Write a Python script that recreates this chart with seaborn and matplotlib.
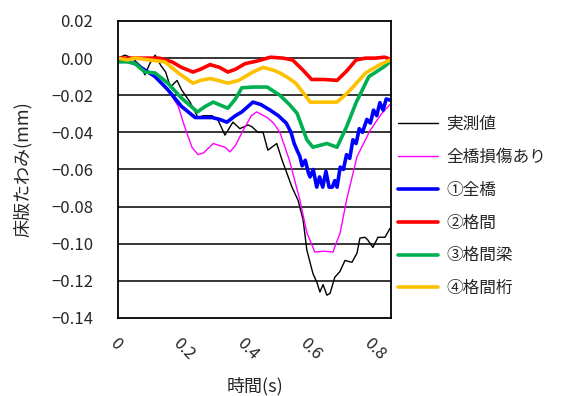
import numpy as np
import pandas as pd
import matplotlib
matplotlib.use('Agg')
import matplotlib.pyplot as plt
import seaborn as sns

# measured deflection
bx = [0, 0.022, 0.045, 0.07, 0.085, 0.1, 0.117, 0.135, 0.15, 0.165, 0.186, 0.2, 0.227, 0.252, 0.27,
      0.296, 0.315, 0.337, 0.362, 0.384, 0.41, 0.422, 0.441, 0.457, 0.472, 0.5, 0.517, 0.532, 0.548,
      0.567, 0.583, 0.595, 0.614, 0.627, 0.636, 0.646, 0.658, 0.668, 0.683, 0.699, 0.715, 0.737,
      0.753, 0.762, 0.778, 0.787, 0.803, 0.819, 0.841, 0.857]
by = [0, 0.0016, 0.0, -0.004, -0.009, -0.003, 0.0016, -0.004, -0.0075, -0.0156, -0.012, -0.017,
      -0.0237, -0.032, -0.031, -0.031, -0.0334, -0.0415, -0.0345, -0.038, -0.036, -0.037, -0.040,
      -0.040, -0.0496, -0.046, -0.055, -0.062, -0.0695, -0.0765, -0.087, -0.1035, -0.116, -0.121,
      -0.126, -0.122, -0.1277, -0.1267, -0.118, -0.115, -0.109, -0.110, -0.105, -0.097, -0.0965,
      -0.098, -0.102, -0.0965, -0.0965, -0.0917]

# whole bridge damaged
mx = [0, 0.054, 0.117, 0.157, 0.19, 0.21, 0.233, 0.252, 0.27, 0.30, 0.337, 0.353, 0.37, 0.394, 0.42,
      0.437, 0.47, 0.49, 0.51, 0.54, 0.573, 0.595, 0.62, 0.65, 0.677, 0.70, 0.72, 0.753, 0.794, 0.83,
      0.857]
my = [0, -0.003, -0.010, -0.017, -0.026, -0.037, -0.048, -0.052, -0.051, -0.046, -0.048, -0.0505,
      -0.047, -0.039, -0.031, -0.029, -0.032, -0.035, -0.040, -0.055, -0.0765, -0.094, -0.1045,
      -0.104, -0.1045, -0.094, -0.0765, -0.053, -0.039, -0.030, -0.025]

# case 1
ux = [0, 0.054, 0.117, 0.157, 0.2, 0.243, 0.27, 0.296, 0.32, 0.343, 0.37, 0.39, 0.425, 0.45, 0.479,
      0.505, 0.53, 0.545, 0.555, 0.564, 0.573, 0.58, 0.59, 0.6, 0.605, 0.615, 0.626, 0.635, 0.645,
      0.655, 0.665, 0.675, 0.683, 0.69, 0.70, 0.71, 0.72, 0.73, 0.74, 0.75, 0.76, 0.77, 0.784, 0.795,
      0.805, 0.815, 0.825, 0.835, 0.845, 0.857]
uy = [0, -0.003, -0.010, -0.017, -0.026, -0.032, -0.032, -0.032, -0.033, -0.0345, -0.031, -0.029,
      -0.0237, -0.025, -0.028, -0.031, -0.035, -0.040, -0.046, -0.0496, -0.053, -0.058, -0.055,
      -0.062, -0.064, -0.060, -0.0695, -0.064, -0.0695, -0.061, -0.0695, -0.0695, -0.066, -0.0695,
      -0.0587, -0.060, -0.052, -0.054, -0.044, -0.046, -0.038, -0.040, -0.033, -0.035, -0.028,
      -0.031, -0.024, -0.028, -0.022, -0.0226]

# case 2
rx = [0, 0.05, 0.1, 0.13, 0.17, 0.2, 0.236, 0.26, 0.29, 0.32, 0.346, 0.37, 0.4, 0.44, 0.48, 0.52,
      0.55, 0.58, 0.61, 0.65, 0.69, 0.72, 0.75, 0.78, 0.81, 0.84, 0.857]
ry = [0, 0, 0, 0, -0.002, -0.005, -0.0075, -0.006, -0.0035, -0.005, -0.0075, -0.006, -0.003,
      -0.0015, 0.0005, 0, -0.001, -0.006, -0.0115, -0.0115, -0.012, -0.007, -0.001, 0, 0, 0.0005,
      -0.0005]

# case 3
gx = [0, 0.03, 0.054, 0.085, 0.117, 0.157, 0.2, 0.25, 0.275, 0.30, 0.346, 0.37, 0.39, 0.425, 0.47,
      0.51, 0.54, 0.564, 0.595, 0.614, 0.658, 0.69, 0.72, 0.75, 0.79, 0.835, 0.857]
gy = [-0.002, -0.002, -0.003, -0.0075, -0.008, -0.0135, -0.0215, -0.029, -0.026, -0.0237, -0.027,
      -0.022, -0.016, -0.0156, -0.0156, -0.020, -0.025, -0.0297, -0.044, -0.048, -0.046, -0.048,
      -0.037, -0.024, -0.010, -0.005, -0.002]

# case 4
ox = [0, 0.03, 0.054, 0.1, 0.148, 0.19, 0.236, 0.26, 0.29, 0.315, 0.346, 0.38, 0.425, 0.457, 0.49,
      0.51, 0.535, 0.56, 0.585, 0.605, 0.65, 0.69, 0.715, 0.74, 0.78, 0.82, 0.857]
oy = [0, -0.001, 0, -0.001, -0.002, -0.008, -0.0135, -0.012, -0.011, -0.012, -0.0135, -0.012,
      -0.0075, -0.005, -0.0065, -0.008, -0.0105, -0.0135, -0.019, -0.0237, -0.0237, -0.0237,
      -0.020, -0.0156, -0.008, -0.004, -0.001]

labels = ['実測値', '全橋損傷あり', '①全橋', '②格間', '③格間梁', '④格間桁']
series = [(bx, by), (mx, my), (ux, uy), (rx, ry), (gx, gy), (ox, oy)]
colors = ['black', '#FF00FF', '#0000FF', '#FF0000', '#00B050', '#FFC000']
widths = [1.0, 1.0, 2.6, 2.6, 2.6, 2.6]

xticks = [0, 0.2, 0.4, 0.6, 0.8]
xticklabels = ['0', '0.2', '0.4', '0.6', '0.8']
yticks = [-0.14, -0.12, -0.10, -0.08, -0.06, -0.04, -0.02, 0.00, 0.02]

sns.set_style('white')
plt.rcParams['font.family'] = ['Noto Sans CJK JP', 'DejaVu Sans']

fig = plt.figure(figsize=(5.65, 3.96), dpi=100)
ax = fig.add_axes([118 / 565, 78 / 396, 273 / 565, 297 / 396])

for (x, y), lab, c, w in zip(series, labels, colors, widths):
    d = pd.DataFrame({'t': x, 'v': y})
    sns.lineplot(data=d, x='t', y='v', color=c, linewidth=w, label=lab,
                 sort=False, estimator=None, ax=ax)

ax.set_xlim(0, 0.86)
ax.set_ylim(-0.14, 0.02)
ax.set_yticks(yticks)
ax.set_yticklabels([f'{v:.2f}'.replace('-', '\u2212') for v in yticks], fontsize=12)
ax.set_xticks(xticks)
ax.set_xticklabels(xticklabels, fontsize=12, rotation=-45, ha='left', va='top',
                   rotation_mode='anchor')
ax.tick_params(axis='y', length=0, pad=18)
ax.tick_params(axis='x', length=0, pad=12)

for yy in yticks[1:-1]:
    ax.axhline(yy, color='black', linewidth=1.1, zorder=0)
for s in ax.spines.values():
    s.set_color('black')
    s.set_linewidth(1.3)

ax.set_xlabel('時間(s)', fontsize=13, labelpad=10)
ax.set_ylabel('床版たわみ(mm)', fontsize=13, labelpad=14)

ax.legend(loc='center left', bbox_to_anchor=(1.0, 0.375), frameon=False, fontsize=12,
          handlelength=2.4, handletextpad=0.5, labelspacing=0.95, borderaxespad=0,
          borderpad=0.4)

fig.savefig('out.png', dpi=100)
